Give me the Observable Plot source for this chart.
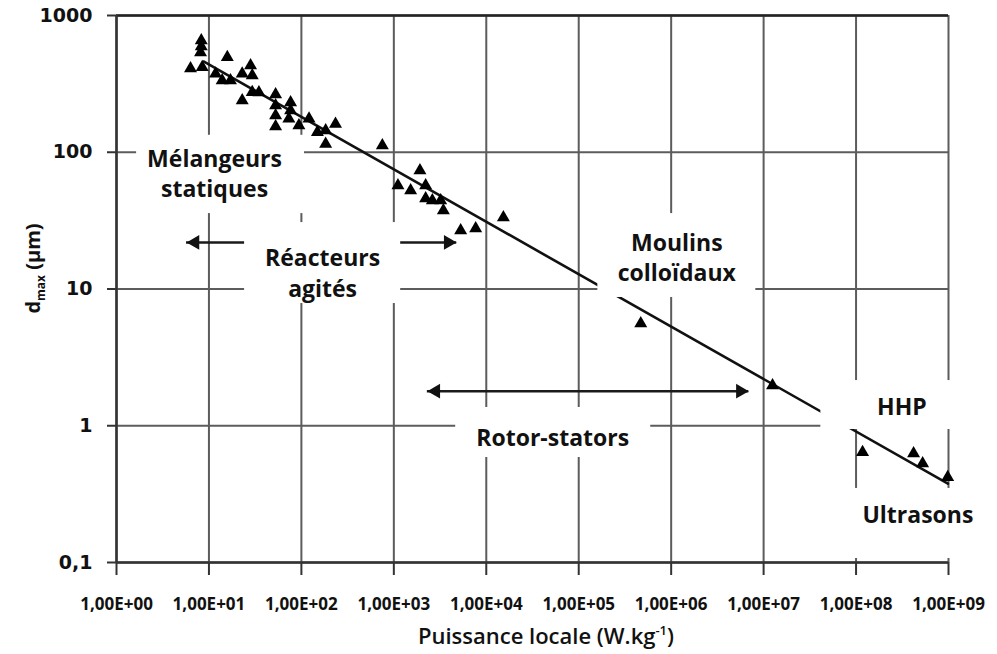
<!DOCTYPE html>
<html>
<head>
<meta charset="utf-8">
<script src="https://cdn.jsdelivr.net/npm/d3@7"></script>
<script src="https://cdn.jsdelivr.net/npm/@observablehq/plot@0.6"></script>
<style>
  html, body { margin: 0; padding: 0; background: #fff; }
  #chart svg { display: block; }
  g[aria-label="x-axis tick label"] { font-family: "Open Sans", sans-serif; font-weight: 700; font-size: 17px; }
  g[aria-label="y-axis tick label"] { font-family: "DejaVu Sans", sans-serif; font-weight: 700; font-size: 19px; }
</style>
</head>
<body>
<div id="chart"></div>
<script>
// ---- data ----
const powerX = [8.26, 8.26, 8.11, 6.32, 8.46, 15.8, 11.8, 13.9, 17.1, 22.9, 28.2, 29.4, 22.9, 29.4, 34.7,
  52.6, 52.6, 52.6, 52.6, 76.4, 76.4, 73.2, 94, 121, 149, 183, 234, 183, 751,
  1916, 1108, 1520, 2209, 2209, 2610, 3210, 3434, 5284, 7680, 15310,
  468800, 1.249e7, 1.176e8, 4.19e8, 5.25e8, 9.8e8];
const dmaxY = [656, 593, 536, 410, 419, 495, 375, 335, 335, 375, 431, 364, 239, 275, 273,
  264, 220, 186, 154, 231, 202, 176, 157, 176, 140, 144, 161, 115, 112,
  73.5, 57.1, 52.5, 57.1, 45.9, 44.4, 44.4, 37.5, 26.8, 27.7, 33.3,
  5.59, 1.97, 0.640, 0.627, 0.530, 0.420];

const trendX = [8.74, 9.85e8];
const trendY = [461, 0.378];

const xTicks = [1, 10, 100, 1e3, 1e4, 1e5, 1e6, 1e7, 1e8, 1e9];
const xTickLabels = ["1,00E+00", "1,00E+01", "1,00E+02", "1,00E+03", "1,00E+04", "1,00E+05", "1,00E+06", "1,00E+07", "1,00E+08", "1,00E+09"];
const yTicks = [0.1, 1, 10, 100, 1000];
const yTickLabels = ["0,1", "1", "10", "100", "1000"];

const annotText = ["Mélangeurs\nstatiques", "Réacteurs\nagités", "Moulins\ncolloïdaux", "Rotor-stators", "HHP", "Ultrasons"];
const annotX = [11.5, 169.6, 1.15e6, 5.23e4, 3.13e8, 4.67e8];
const annotY = [71.1, 13.4, 17.3, 0.834, 1.406, 0.228];

// white boxes behind the annotations (data units)
const boxX1 = [1.65, 24.3, 1.61e5, 4670, 4.16e7, 6.84e7];
const boxX2 = [108, 1186, 8.24e6, 6.01e5, 1.55e9, 2.0e9];
const boxY1 = [35.6, 7.83, 8.67, 0.586, 0.939, 0.107];
const boxY2 = [133, 30.6, 35.6, 1.36, 2.14, 0.348];

// range arrows (double-headed)
const arrowX1 = [5.72, 2305];
const arrowX2 = [4786, 6.92e6];
const arrowY = [21.9, 1.79];

// ---- tables ----
const points = powerX.map((x, i) => ({x, y: dmaxY[i]}));
const trend = trendX.map((x, i) => ({x, y: trendY[i]}));
const annots = annotText.map((t, i) => ({text: t, x: annotX[i], y: annotY[i]}));
const boxes = boxX1.map((x1, i) => ({x1, x2: boxX2[i], y1: boxY1[i], y2: boxY2[i]}));
const arrows = arrowX1.map((x1, i) => ({x1, x2: arrowX2[i], y: arrowY[i]}));

const W = 997, H = 654;
const mL = 116, mR = 49, mT = 15, mB = 92;

const plot = Plot.plot({
  width: W, height: H,
  marginLeft: mL, marginRight: mR, marginTop: mT, marginBottom: mB,
  x: {type: "log", domain: [1, 1e9]},
  y: {type: "log", domain: [0.1, 1000]},
  style: {background: "white", fontFamily: "Open Sans", color: "#111"},
  marks: [
    Plot.ruleX(xTicks, {stroke: "#5c5c5c", strokeWidth: 2}),
    Plot.ruleY(yTicks, {stroke: "#5c5c5c", strokeWidth: 2}),
    Plot.ruleY([1000], {stroke: "#222", strokeWidth: 2.5}),
    Plot.line(trend, {x: "x", y: "y", stroke: "#111", strokeWidth: 2.6}),
    Plot.ruleY(arrows, {y: "y", x1: "x1", x2: "x2", stroke: "#1a1a1a", strokeWidth: 2.5}),
    Plot.dot(arrows, {x: "x1", y: "y", symbol: "triangle2", r: 7, rotate: -90, dx: 8.5, fill: "#111"}),
    Plot.dot(arrows, {x: "x2", y: "y", symbol: "triangle2", r: 7, rotate: 90, dx: -8.5, fill: "#111"}),
    Plot.rect(boxes, {x1: "x1", x2: "x2", y1: "y1", y2: "y2", fill: "white"}),
    Plot.dot(points, {x: "x", y: "y", symbol: "triangle2", r: 6.2, fill: "#000"}),
    Plot.text(annots, {x: "x", y: "y", text: "text", fontSize: 23, fontWeight: 700, fontFamily: "Open Sans", lineHeight: 1.32, fill: "#111"}),
    Plot.ruleX([1], {stroke: "#333", strokeWidth: 2.5}),
    Plot.ruleY([0.1], {stroke: "#333", strokeWidth: 2.5}),
    Plot.axisX({ticks: xTicks, tickFormat: (d) => xTickLabels[xTicks.indexOf(d)], tickSize: 13, tickPadding: 22,
      label: null, stroke: "#333", strokeWidth: 2, fontSize: 17, fontWeight: 700, fontFamily: "Open Sans", fill: "#111"}),
    Plot.axisY({ticks: yTicks, tickFormat: (d) => yTickLabels[yTicks.indexOf(d)], tickSize: 9, tickPadding: 15,
      label: null, stroke: "#333", strokeWidth: 2, fontSize: 19, fontWeight: 700, fontFamily: "DejaVu Sans", fill: "#111"})
  ]
});

document.getElementById("chart").append(plot);

// axis titles with sub/superscripts
const svg = d3.select(plot);
const xt = svg.append("text")
  .attr("x", (mL + (W - mR)) / 2 + 14)
  .attr("y", H - 10)
  .attr("text-anchor", "middle")
  .attr("font-family", "Open Sans")
  .attr("font-weight", 600)
  .attr("font-size", 22)
  .attr("fill", "#111");
xt.append("tspan").text("Puissance locale (W.kg");
xt.append("tspan").attr("font-size", 13).attr("dy", -9).text("-1");
xt.append("tspan").attr("dy", 9).text(")");

const yt = svg.append("text")
  .attr("transform", `translate(40,${(mT + (H - mB)) / 2 - 20}) rotate(-90)`)
  .attr("text-anchor", "middle")
  .attr("font-family", "Open Sans")
  .attr("font-weight", 700)
  .attr("font-size", 20)
  .attr("fill", "#111");
yt.append("tspan").text("d");
yt.append("tspan").attr("font-size", 12).attr("dy", 5).text("max");
yt.append("tspan").attr("dy", -5).text(" (µm)");
</script>
</body>
</html>
